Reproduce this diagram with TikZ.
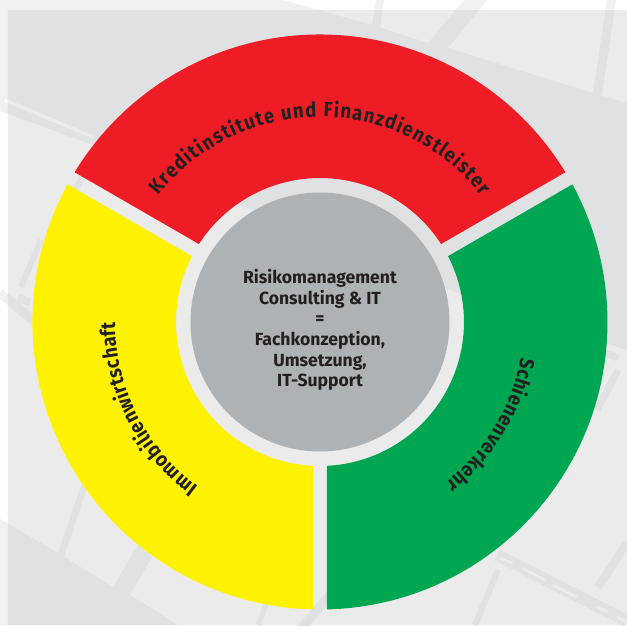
\documentclass[tikz,border=0pt]{standalone}
\usepackage{fontspec}
\setmainfont{Fira Sans}
\newfontfamily\ringfamily{Fira Sans}[FakeStretch=0.9]
\usetikzlibrary{decorations.text}

\definecolor{ringred}{HTML}{EE1C25}
\definecolor{ringyellow}{HTML}{FFF200}
\definecolor{ringgreen}{HTML}{00A651}
\definecolor{coregray}{HTML}{AFB2B4}
\definecolor{inkdark}{HTML}{231F20}
\definecolor{mapdark}{HTML}{E0E1E3}
\definecolor{maplight}{HTML}{EBEBEC}
\definecolor{marginroad}{HTML}{F1F1F1}

\newcommand{\ringfont}{\ringfamily\fontsize{20.5}{22}\selectfont\bfseries}

% street map, in pixels of the page; #1 roads, #2 blocks
\newcommand{\mapshapes}[2]{
    \fill[#1] (0, 0) -- (283, 0) -- (372, 25) -- (428, 43) -- (448, 48) -- (593, 93) -- (627, 103)
        -- (627, 350) -- (450, 290) -- (240, 205) -- (93, 145) -- (0, 111) -- cycle;
    \fill[#1] (428, 43) -- (448, 48) -- (487, 0) -- (464, 0) -- cycle;
    \fill[#1] (372, 25) -- (380, 28) -- (384, 0) -- (376, 0) -- cycle;
    \fill[#1] (593, 93) -- (602, 95) -- (616, 0) -- (607, 0) -- cycle;
    \fill[#1] (0, 519) -- (58, 553) -- (82, 483) -- (88, 485) -- (64, 557) -- (113, 587)
        -- (138, 545) -- (152, 557) -- (130, 595) -- (178, 625) -- (0, 625) -- cycle;
    \draw[#1, line width=5] (268, 600) -- (258, 625);
    \draw[#1, line width=9] (330, 595) -- (300, 630);
    \draw[#1, line width=6] (85, 172) -- (70, 200);
    \draw[#1, line width=6] (41, 240) -- (21, 287);
    \draw[#1, line width=9] (0, 293) -- (40, 326);
    \draw[#1, line width=8] (18, 298) -- (30, 302);
    \draw[#1, line width=12] (497, 555) -- (627, 621);
    \draw[#1, line width=8] (627, 543) -- (598, 587);
    \draw[#1, line width=6] (498, 570) -- (475, 625);
    \draw[#1, line width=7] (618, 370) -- (597, 410);
    \draw[#1, line width=7] (604, 352) -- (618, 358);
    \draw[#2, line width=3.5] (5, 100) -- (93, 137);
    \foreach \ax/\ay/\bx/\by in {500/558/513/563, 522/568/545/580, 553/585/577/597, 597/607/608/612, 617/617/627/622}
        \draw[#2, line width=2.5] (\ax, \ay) -- (\bx, \by);
}

\begin{document}
\begin{tikzpicture}[x=1pt, y=1pt]
    \useasboundingbox (-320, -303) rectangle (307, 322);
    \begin{scope}[y=-1pt, shift={(-320pt, 322pt)}]
        \fill[white] (0, 0) rectangle (627, 625);
        \mapshapes{marginroad}{white}
        \clip (8, 10) rectangle (627, 625);
        \fill[maplight] (0, 0) rectangle (627, 625);
        \mapshapes{mapdark}{maplight}
    \end{scope}

    \foreach \midangle/\ringcolor in {90/ringred, -30/ringgreen, 210/ringyellow} {
        \fill[\ringcolor] (\midangle-58.605:287.5) arc[start angle=\midangle-58.605, end angle=\midangle+58.605, radius=287.5]
            -- (\midangle+57.214:144) arc[start angle=\midangle+57.214, end angle=\midangle-57.214, radius=144] -- cycle;
    }
    \fill[coregray] (0, 0) circle [radius=129.5];

    \node[text=inkdark, align=center, font=\fontsize{17.6}{20.6}\selectfont\bfseries] (coretext) at (0, -8)
        {Risikomanagement\\Consulting \& IT\\=\\Fachkonzeption,\\Umsetzung,\\IT-Support};

    \path[decorate, decoration={text along path, text color=inkdark, text align=fit to path,
        text={|\ringfont|Kreditinstitute und Finanzdienstleister}}]
        (142:205) arc[start angle=142, end angle=38, radius=205];
    \path[decorate, decoration={text along path, text color=inkdark, text align=fit to path,
        text={|\ringfont|Immobilienwirtschaft}}]
        (233.5:205) arc[start angle=233.5, end angle=180, radius=205];
    \path[decorate, decoration={text along path, text color=inkdark, text align=fit to path,
        text={|\ringfont|Schienenverkehr}}]
        (-10:204) arc[start angle=-10, end angle=-52, radius=204];
\end{tikzpicture}
\end{document}
